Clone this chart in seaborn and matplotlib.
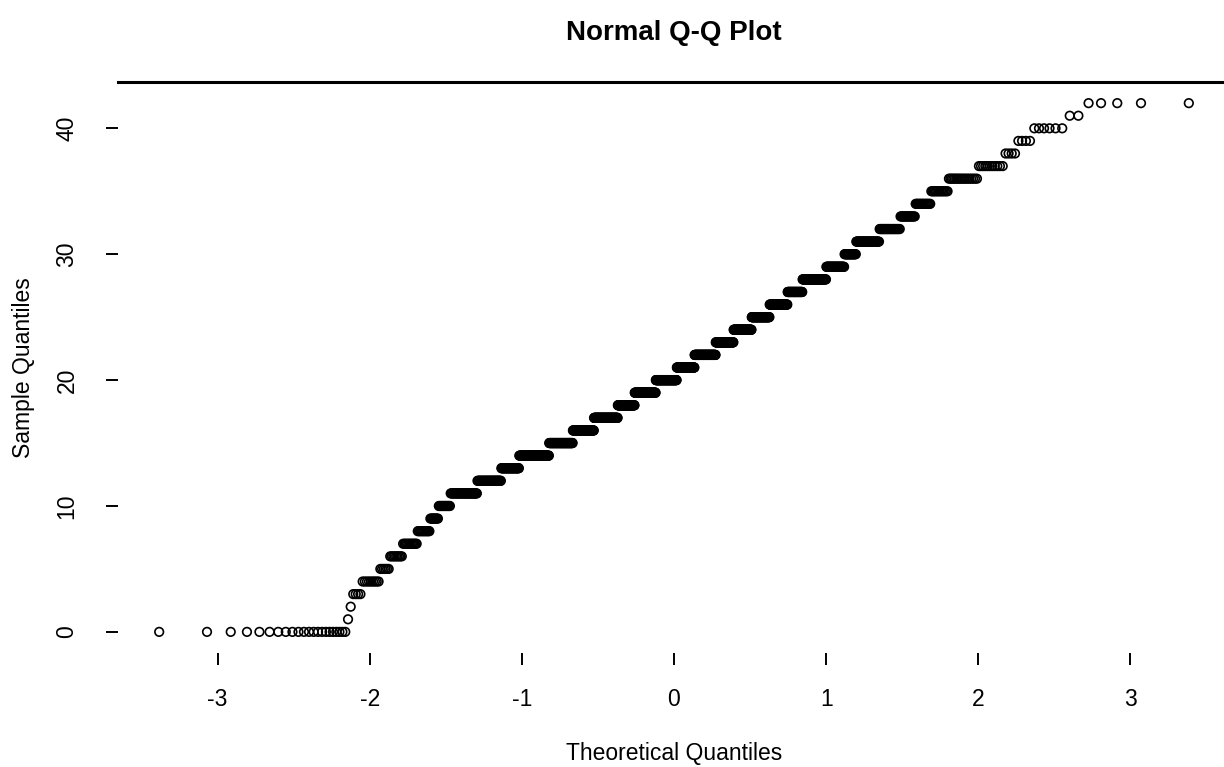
import numpy as np
import pandas as pd
import matplotlib
matplotlib.use("Agg")
import matplotlib.pyplot as plt
import seaborn as sns
from statistics import NormalDist

# integer sample values and how many observations sit at each one
values = list(range(0, 43))
counts = [22, 1, 1, 4, 9, 6, 9, 12, 12, 9, 14, 38, 42, 37, 72, 66, 65, 79, 59,
          76, 77, 65, 76, 62, 60, 56, 52, 40, 57, 38, 22, 38, 28, 17, 15, 14,
          18, 11, 4, 4, 6, 2, 5]

x_ticks = [-3, -2, -1, 0, 1, 2, 3]
y_ticks = [0, 10, 20, 30, 40]

# qqnorm: sorted sample against normal quantiles of ppoints(n)
sample = np.repeat(values, counts).astype(float)
n = len(sample)
probs = (np.arange(1, n + 1) - 0.5) / n
nd = NormalDist()
theo = np.array([nd.inv_cdf(p) for p in probs])
df = pd.DataFrame({"theoretical": theo, "sample": np.sort(sample)})

sns.set_theme(style="white")
plt.rcParams["font.family"] = ["Liberation Sans", "DejaVu Sans"]
plt.rcParams["text.color"] = "black"
plt.rcParams["axes.labelcolor"] = "black"

fig = plt.figure(figsize=(12.24, 7.67), dpi=100)
ax = fig.add_axes([0.0964, 0.1486, 0.9085, 0.7445])

sns.scatterplot(data=df, x="theoretical", y="sample", ax=ax,
                marker="o", s=38, facecolor="none", edgecolor="black",
                linewidth=1.2, legend=False)

# R style 4% padding
xr = theo.max() - theo.min()
ax.set_xlim(theo.min() - 0.04 * xr, theo.max() + 0.04 * xr)
yr = sample.max() - sample.min()
ax.set_ylim(sample.min() - 0.04 * yr, sample.max() + 0.04 * yr)

ax.set_xticks(x_ticks)
ax.set_yticks(y_ticks)
ax.set_xticklabels([str(t) for t in x_ticks])
ax.set_yticklabels([str(t) for t in y_ticks], rotation=90, va="center")

for s in ["left", "right", "bottom"]:
    ax.spines[s].set_visible(False)
ax.spines["top"].set_linewidth(2.2)
ax.spines["top"].set_color("black")

ax.tick_params(axis="both", which="both", direction="out", length=8.5,
               width=1.4, color="black", labelsize=16.5, labelcolor="black")
ax.tick_params(axis="x", bottom=True, pad=17)
ax.tick_params(axis="y", left=True, pad=20)

ax.set_xlabel("Theoretical Quantiles", fontsize=16.5, labelpad=22, color="black")
ax.set_ylabel("Sample Quantiles", fontsize=16.5, labelpad=15, color="black")
ax.set_title("Normal Q-Q Plot", fontsize=20, fontweight="bold", pad=30,
             color="black")

fig.savefig("out.png", dpi=100)
